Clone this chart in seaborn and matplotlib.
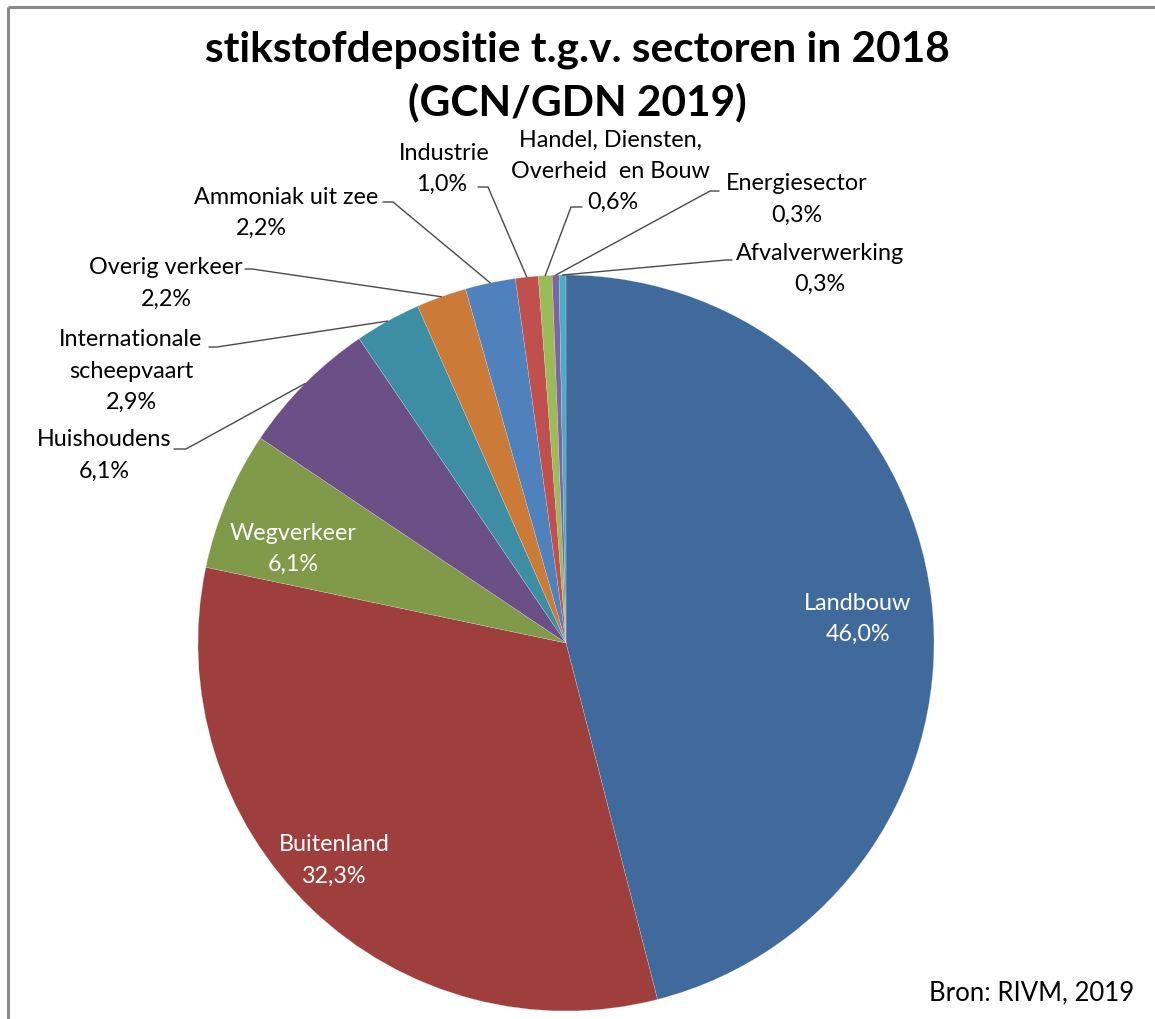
import numpy as np
import matplotlib
matplotlib.use("Agg")
import matplotlib.pyplot as plt
import seaborn as sns

# ---- data ----
sectors = ["Landbouw", "Buitenland", "Wegverkeer", "Huishoudens",
           "Internationale\nscheepvaart", "Overig verkeer", "Ammoniak uit zee",
           "Industrie", "Handel, Diensten,\nOverheid  en Bouw", "Energiesector",
           "Afvalverwerking"]
shares = [46.0, 32.3, 6.1, 6.1, 2.9, 2.2, 2.2, 1.0, 0.6, 0.3, 0.3]
colors = ["#3F6A9B", "#9E3F3E", "#7F9A48", "#6A5086", "#3D8DA4", "#CC7A37",
          "#4F81BD", "#C0504D", "#9BBB59", "#8064A2", "#4BACC6"]
title_lines = ["stikstofdepositie t.g.v. sectoren in 2018", "(GCN/GDN 2019)"]
source = "Bron: RIVM, 2019"

sns.set_theme(style="white")
plt.rcParams["font.family"] = ["Lato", "DejaVu Sans"]

W, H = 1155, 1020
fig = plt.figure(figsize=(W / 100, H / 100), dpi=100)
ax = fig.add_axes([0, 0, 1, 1])

def Y(y):  # image y -> data y
    return H - y

cx, cy, R = 566, 644, 368
wedges, _ = ax.pie(shares, colors=colors, startangle=90, counterclock=False,
                   center=(cx, Y(cy)), radius=R, frame=True,
                   wedgeprops=dict(linewidth=0.15, edgecolor="#e8e8e8"))
ax.set_xlim(0, W)
ax.set_ylim(0, H)
ax.set_aspect("equal")
ax.axis("off")

def fmt(v):
    return f"{v:.1f}%".replace(".", ",")

lab_fs = 16.8
line_h = 31

def block(x, y_first, lines, color="black", ha="center", fs=lab_fs, xs=None):
    for i, t in enumerate(lines):
        xx = x if xs is None else xs[i]
        ax.text(xx, Y(y_first + i * line_h), t, ha=ha, va="center",
                fontsize=fs, color=color)

# inside labels (white)
inside = {0: (858, 603), 1: (334, 845), 2: (293, 533)}
for i, (x, y) in inside.items():
    block(x, y, sectors[i].split("\n") + [fmt(shares[i])], color="white")

# outside labels: (text x, first line y, anchor x, anchor y, elbow x, per-line x)
outside = {
    3: (104, 440, 174, 450, 186, None),
    4: (131, 340, 209, 348, 217, None),
    5: (166, 268, 245, 270, 252, None),
    6: (286, 197, 383, 203, 393, [286, 261]),
    7: (444, 153, 478, 188, 488, [444, 442]),
    8: (610, 140, 582, 208, 571, [610, 610, 613]),
    9: (797, 184, 719, 192, 710, None),
    10: (820, 253, 732, 261, 726, None),
}
for i, (tx, ty, axp, ayp, ex, xs) in outside.items():
    lines = sectors[i].split("\n") + [fmt(shares[i])]
    block(tx, ty, lines, xs=xs)
    w = wedges[i]
    mid = np.deg2rad((w.theta1 + w.theta2) / 2)
    px = cx + R * np.cos(mid)
    py = Y(cy) + R * np.sin(mid)
    ax.plot([axp, ex, px], [Y(ayp), Y(ayp), py], color="#4a4a4a",
            lw=1.0, solid_joinstyle="miter")

# title
for k, t in enumerate(title_lines):
    ax.text(577, Y(50 + 52 * k), t, ha="center", va="center",
            fontsize=30.5, fontweight="bold", color="black")

ax.text(1134, Y(993), source, ha="right", va="center", fontsize=18.5, color="black")

# frame lines (top and left)
ax.plot([8, W], [Y(8), Y(8)], color="#8a8a8a", lw=2.2, solid_capstyle="butt")
ax.plot([8, 8], [Y(8), 0], color="#8a8a8a", lw=2.2, solid_capstyle="butt")

fig.savefig("out.png", dpi=100)
